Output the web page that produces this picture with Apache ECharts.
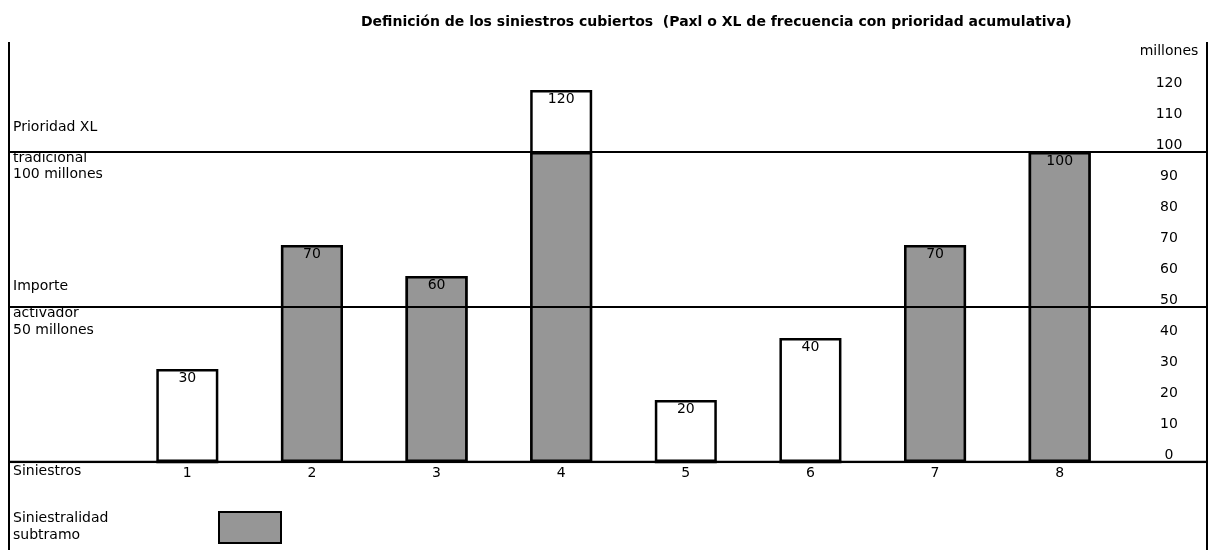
<!DOCTYPE html>
<html>
<head>
<meta charset="utf-8">
<script src="https://cdn.jsdelivr.net/npm/echarts@6/dist/echarts.min.js"></script>
<style>
  html, body { margin: 0; padding: 0; background: #fff; }
  #canvas { width: 1212px; height: 550px; }
</style>
</head>
<body>
<div id="canvas"></div>
<script>
// datos del grafico
var siniestros = ['1', '2', '3', '4', '5', '6', '7', '8'];
var importe = [30, 70, 60, 120, 20, 40, 70, 100];
// parte cubierta por el subtramo (gris)
var subtramo = [0, 70, 60, 100, 0, 0, 70, 100];
// lineas horizontales: base, activador, prioridad
var umbrales = [0, 50, 100];
var ejeTicks = [0, 120, 10]; // min, max, intervalo

var FONT = 'DejaVu Sans';
var FS = 14;
var GRIS = '#969696';

var lineSeries = umbrales.map(function (u) {
    return {
        type: 'line',
        xAxisIndex: 0,
        yAxisIndex: 0,
        data: [[0, u], [1, u]],
        symbol: 'none',
        silent: true,
        z: 5,
        lineStyle: { color: '#000', width: u === 0 ? 2.5 : 2 }
    };
});

function txt(x, y, s) {
    return {
        type: 'text',
        left: x,
        top: y,
        silent: true,
        style: { text: s, fontSize: FS, fontFamily: FONT, fill: '#000' }
    };
}

var option = {
    animation: false,
    backgroundColor: '#fff',
    title: {
        text: 'Definición de los siniestros cubiertos  (Paxl o XL de frecuencia con prioridad acumulativa)',
        left: 356,
        top: 10,
        textStyle: { fontFamily: FONT, fontSize: 14, fontWeight: 'bold', color: '#000' }
    },
    legend: {
        data: ['Siniestralidad subtramo'],
        left: 218,
        top: 511,
        padding: 0,
        icon: 'rect',
        itemWidth: 62,
        itemHeight: 31,
        formatter: function () { return ''; },
        selectedMode: false
    },
    grid: [
        { left: 9, right: 5, top: 90, bottom: 88 },
        { left: 125, right: 90, top: 90, bottom: 88 }
    ],
    xAxis: [
        { type: 'value', gridIndex: 0, min: 0, max: 1, show: false },
        {
            type: 'category',
            gridIndex: 1,
            data: siniestros,
            axisLine: { show: false },
            axisTick: { show: false },
            axisLabel: { color: '#000', fontFamily: FONT, fontSize: FS, margin: 4 }
        }
    ],
    yAxis: [
        { type: 'value', gridIndex: 0, min: ejeTicks[0], max: ejeTicks[1], show: false },
        {
            type: 'value',
            gridIndex: 1,
            position: 'right',
            offset: 47,
            min: ejeTicks[0],
            max: ejeTicks[1],
            interval: ejeTicks[2],
            name: 'millones',
            nameLocation: 'end',
            nameGap: 32,
            nameTextStyle: { color: '#000', fontFamily: FONT, fontSize: FS, align: 'center' },
            axisLine: { show: false },
            axisTick: { show: false },
            splitLine: { show: false },
            axisLabel: {
                color: '#000', fontFamily: FONT, fontSize: FS,
                margin: 0, align: 'center', verticalAlign: 'bottom'
            }
        }
    ],
    series: lineSeries.concat([
        {
            name: 'Siniestros',
            type: 'bar',
            xAxisIndex: 1,
            yAxisIndex: 1,
            data: importe,
            barWidth: 62,
            barGap: '-100%',
            itemStyle: { color: '#fff', borderColor: '#000', borderWidth: 2.5 }
        },
        {
            name: 'Siniestralidad subtramo',
            type: 'bar',
            xAxisIndex: 1,
            yAxisIndex: 1,
            data: subtramo,
            barWidth: 62,
            barGap: '-100%',
            itemStyle: { color: GRIS, borderColor: '#000', borderWidth: 2.5 }
        },
        {
            // solo etiquetas
            type: 'bar',
            xAxisIndex: 1,
            yAxisIndex: 1,
            data: importe,
            barWidth: 62,
            barGap: '-100%',
            silent: true,
            z: 6,
            itemStyle: { color: 'rgba(0,0,0,0)' },
            label: {
                show: true,
                position: 'insideTop',
                distance: 2,
                color: '#000',
                fontFamily: FONT,
                fontSize: FS
            }
        }
    ]),
    graphic: [
        // marco
        { type: 'line', silent: true, shape: { x1: 9, y1: 42, x2: 9, y2: 550 }, style: { stroke: '#000', lineWidth: 2 } },
        { type: 'line', silent: true, shape: { x1: 1207, y1: 42, x2: 1207, y2: 550 }, style: { stroke: '#000', lineWidth: 2 } },
        txt(13, 120, 'Prioridad XL'),
        txt(13, 151, 'tradicional'),
        txt(13, 167, '100 millones'),
        txt(13, 279, 'Importe'),
        txt(13, 306, 'activador'),
        txt(13, 323, '50 millones'),
        txt(13, 464, 'Siniestros'),
        txt(13, 511, 'Siniestralidad'),
        txt(13, 528, 'subtramo')
    ]
};

var myChart = echarts.init(document.getElementById('canvas'));
myChart.setOption(option);
</script>
</body>
</html>
